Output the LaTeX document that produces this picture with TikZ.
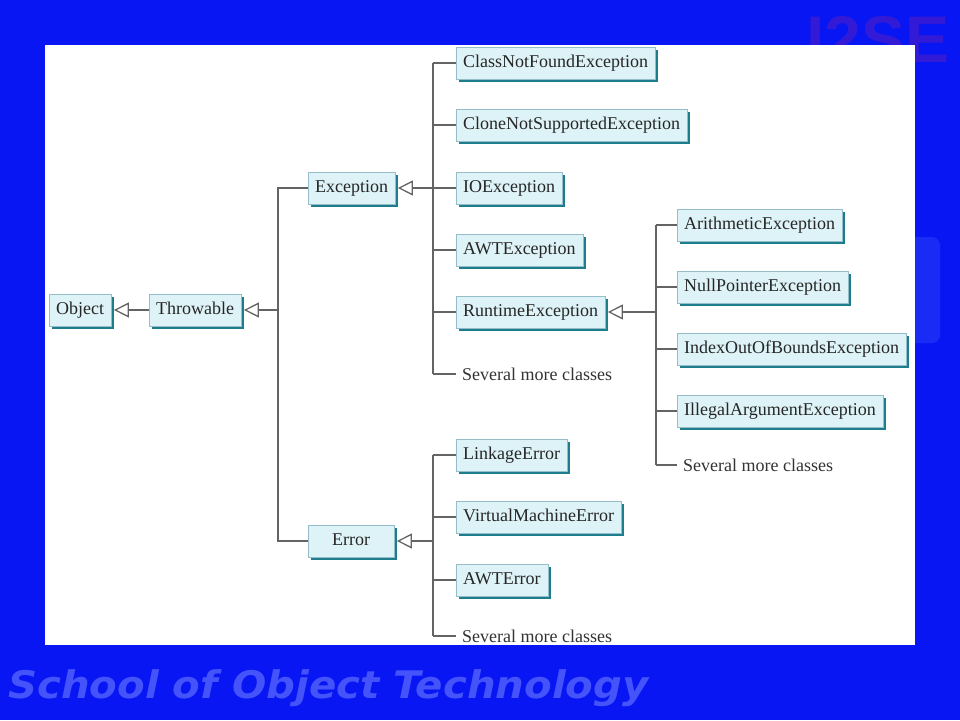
\documentclass[tikz,border=0pt]{standalone}
\usepackage{fontspec}
\setmainfont{Liberation Serif}
\newfontfamily\sofont{DejaVu Sans}
\newfontfamily\isefont{Liberation Sans}
\usetikzlibrary{arrows.meta,shadows}
\definecolor{bgblue}{RGB}{8,22,244}
\definecolor{soblue}{RGB}{68,84,250}
\definecolor{isecol}{RGB}{50,26,214}
\definecolor{faintbox}{RGB}{24,44,246}
\definecolor{boxfill}{RGB}{222,243,247}
\definecolor{boxedge}{RGB}{150,190,200}
\definecolor{shadowteal}{RGB}{30,125,140}
\definecolor{linegray}{RGB}{100,100,100}
\tikzset{
  cls/.style={draw=boxedge, line width=0.4pt, fill=boxfill, inner xsep=7pt, inner ysep=0pt,
    minimum height=32pt, text height=12.5pt, text depth=4pt,
    font=\fontsize{18}{20}\selectfont, text=black!85,
    drop shadow={shadow xshift=3pt, shadow yshift=-3pt, fill=shadowteal, opacity=1}},
  more/.style={inner xsep=6pt, inner ysep=0pt,
    font=\fontsize{18}{20}\selectfont, text=black!80},
  conn/.style={draw=linegray, line width=1.4pt},
  inh/.style={conn, -{Triangle[open, length=15pt, width=15pt, line width=1.3pt, fill=white]}, shorten >=2.5pt}
}
\begin{document}
\begin{tikzpicture}[x=1pt,y=-1pt]
\useasboundingbox (0,0) rectangle (960,720);
\fill[bgblue] (0,0) rectangle (960,720);
% background decorations
\node[anchor=base west, inner sep=0pt, text=isecol, font=\isefont\bfseries\fontsize{66}{70}\selectfont] (ise) at (806,62) {I2SE};
\fill[faintbox, rounded corners=8pt] (880,237) rectangle (940,343);
\node[anchor=base west, inner sep=0pt, text=soblue, font=\sofont\bfseries\itshape\fontsize{38}{44}\selectfont] (school) at (8,698) {\scalebox{1.06}[1]{School of Object Technology}};
% white panel
\fill[white] (45,45) rectangle (915,645);

% nodes
\node[cls, anchor=west] (object) at (49,310) {Object};
\node[cls, anchor=west] (throwable) at (149,310) {Throwable};
\node[cls, anchor=west, minimum width=86pt] (exception) at (308,188) {Exception};
\node[cls, anchor=west, minimum width=86pt] (error) at (308,541) {Error};

\node[cls, anchor=west] (cnf) at (456,63) {ClassNotFoundException};
\node[cls, anchor=west] (cns) at (456,125) {CloneNotSupportedException};
\node[cls, anchor=west] (ioe) at (456,188) {IOException};
\node[cls, anchor=west] (awte) at (456,250) {AWTException};
\node[cls, anchor=west] (rte) at (456,312) {RuntimeException};
\node[more, anchor=west] (more1) at (456,374) {Several more classes};

\node[cls, anchor=west] (arith) at (677,225) {ArithmeticException};
\node[cls, anchor=west] (npe) at (677,287) {NullPointerException};
\node[cls, anchor=west] (ioobe) at (677,349) {IndexOutOfBoundsException};
\node[cls, anchor=west] (iae) at (677,411) {IllegalArgumentException};
\node[more, anchor=west] (more2) at (677,465) {Several more classes};

\node[cls, anchor=west] (link) at (456,455) {LinkageError};
\node[cls, anchor=west] (vme) at (456,517) {VirtualMachineError};
\node[cls, anchor=west] (awterr) at (456,580) {AWTError};
\node[more, anchor=west] (more3) at (456,636) {Several more classes};

% trunk coordinates
\coordinate (tThrow) at (278,0);
\coordinate (tExc) at (433,0);
\coordinate (tRun) at (656,0);
\coordinate (tErr) at (433,0);

% Object <- Throwable
\draw[inh] (throwable.west) -- (object.east);

% Throwable trunk
\draw[conn] (exception.west) -- (exception.west -| tThrow) -- (error.west -| tThrow) -- (error.west);
\draw[inh] (throwable.east -| tThrow) -- (throwable.east);

% Exception trunk
\draw[conn] (cnf.west -| tExc) -- (more1.west -| tExc);
\foreach \n in {cnf,cns,ioe,awte,rte,more1} \draw[conn] (\n.west -| tExc) -- (\n.west);
\draw[inh] (exception.east -| tExc) -- (exception.east);

% RuntimeException trunk
\draw[conn] (arith.west -| tRun) -- (more2.west -| tRun);
\foreach \n in {arith,npe,ioobe,iae,more2} \draw[conn] (\n.west -| tRun) -- (\n.west);
\draw[inh] (rte.east -| tRun) -- (rte.east);

% Error trunk
\draw[conn] (link.west -| tErr) -- (more3.west -| tErr);
\foreach \n in {link,vme,awterr,more3} \draw[conn] (\n.west -| tErr) -- (\n.west);
\draw[inh] (error.east -| tErr) -- (error.east);
\end{tikzpicture}
\end{document}
